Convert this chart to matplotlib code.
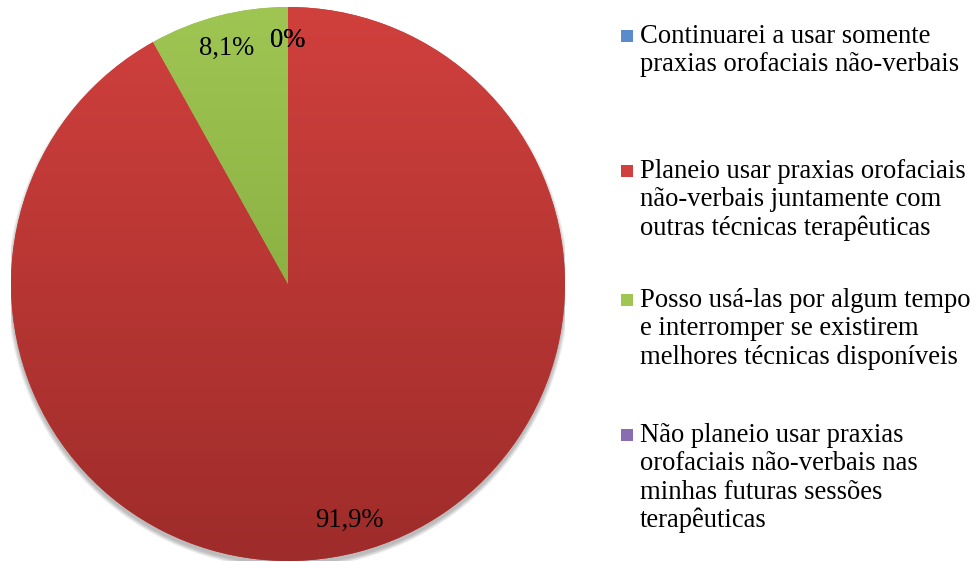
import numpy as np
import matplotlib
matplotlib.use("Agg")
import matplotlib.pyplot as plt
from matplotlib.patches import Circle, Rectangle
from matplotlib.colors import LinearSegmentedColormap

# ================================
# DATA
# ================================
labels = [
    "Continuarei a usar somente\npraxias orofaciais não-verbais",
    "Planeio usar praxias orofaciais\nnão-verbais juntamente com\noutras técnicas terapêuticas",
    "Posso usá-las por algum tempo\ne interromper se existirem\nmelhores técnicas disponíveis",
    "Não planeio usar praxias\norofaciais não-verbais nas\nminhas futuras sessões\nterapêuticas",
]
values = [0.0, 91.9, 8.1, 0.0]
pct_labels = ["0%", "91,9%", "8,1%", "0%"]

# gradient colours (top, bottom) for each slice, Excel 2007 style
grad_top = ["#5a8ccb", "#d0403d", "#9fc653", "#8a6cb0"]
grad_bot = ["#3d6aa0", "#9e2c2a", "#789d35", "#654a88"]

plt.rcParams["font.family"] = ["Liberation Serif", "DejaVu Serif"]
FS = 19.2

fig = plt.figure(figsize=(9.76, 5.62), dpi=100)
W, H = 976, 562

# pie axes: centre (288, 284), radius 277 px
cx, cy, r = 288, 284, 277
ax = fig.add_axes([(cx - r) / W, (H - cy - r) / H, 2 * r / W, 2 * r / H])
ax.set_xlim(-1, 1)
ax.set_ylim(-1, 1)
ax.set_aspect("equal")
ax.axis("off")

# soft drop shadow
for k in range(8):
    ax.add_patch(Circle((0.0, -0.014), 1.0 + 0.002 * k, color="black",
                        alpha=0.035, zorder=0, lw=0))

wedges, _ = ax.pie(values, startangle=90, counterclock=False, radius=1.0,
                   colors=grad_top, wedgeprops=dict(linewidth=0))

grad = np.linspace(0, 1, 256).reshape(-1, 1)
for w, c0, c1 in zip(wedges, grad_top, grad_bot):
    w.set_zorder(1)
    if w.theta2 - w.theta1 <= 0:
        continue
    cmap = LinearSegmentedColormap.from_list("g", [c0, c1])
    im = ax.imshow(grad, cmap=cmap, extent=(-1, 1, -1, 1), origin="upper",
                   aspect="auto", zorder=2, interpolation="bilinear")
    im.set_clip_path(w)

# percentage labels
total = sum(values)
ang = 90.0
for v, lab in zip(values, pct_labels):
    span = v / total * 360
    mid = np.deg2rad(ang - span / 2)
    ax.text(0.88 * np.cos(mid), 0.88 * np.sin(mid), lab, ha="center",
            va="center", fontsize=FS, zorder=5)
    ang -= span
ax.set_xlim(-1, 1)
ax.set_ylim(-1, 1)

# ================================
# LEGEND (manual, Excel-like)
# ================================
baselines = [43, 178, 307, 442]
line_px = 28.4
for lab, yb, c0, c1 in zip(labels, baselines, grad_top, grad_bot):
    lines = lab.split("\n")
    for i, ln in enumerate(lines):
        fig.text(640 / W, 1 - (yb + i * line_px) / H, ln, fontsize=FS,
                 ha="left", va="baseline")
    sq = Rectangle((621 / W, 1 - (yb - 1) / H), 12 / W, 12 / H,
                   transform=fig.transFigure, facecolor=c0, edgecolor="none")
    fig.patches.append(sq)

fig.savefig("out.png", dpi=100, facecolor="white")
